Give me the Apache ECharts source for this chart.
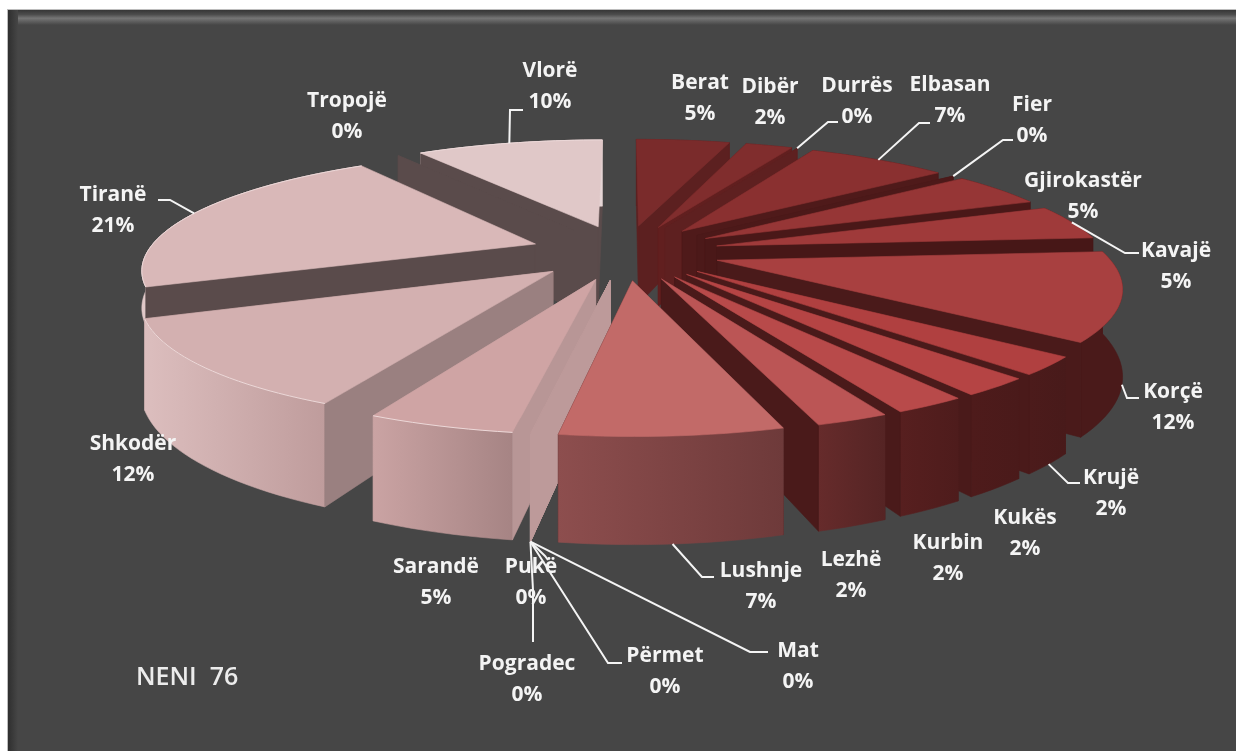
<!DOCTYPE html>
<html>
<head>
<meta charset="utf-8">
<style>html,body{margin:0;padding:0;background:#fff}#chart{width:1236px;height:751px}</style>
<script src="https://cdn.jsdelivr.net/npm/echarts@6/dist/echarts.min.js"></script>
</head>
<body>
<div id="chart"></div>
<script>
// data (seats per district, the % labels come out of these)
var names = ['Berat','Dibër','Durrës','Elbasan','Fier','Gjirokastër','Kavajë','Korçë','Krujë','Kukës','Kurbin','Lezhë','Lushnje','Mat','Përmet','Pogradec','Pukë','Sarandë','Shkodër','Tiranë','Tropojë','Vlorë'];
var seats = [2,1,0,3,0,2,2,5,1,1,1,1,3,0,0,0,0,2,5,9,0,4];
var title = 'NENI  76';

// colours per slice, same order as names
var topColors = ['#7a2b2b','#802d2d','#802d2d','#8a3030','#8a3030','#963636','#9f3a3a','#a84040','#b04040','#b54444','#b84a4a','#bb5555','#c26a68','#c9a0a0','#c9a0a0','#c9a0a0','#c9a0a0','#cfa4a4','#d3b0b0','#d9b8b8','#5a4b4b','#e0c8c8'];
var sideColors = ['#5c2020','#611f1f','#5e2020','#4f1a1a','#4c1919','#4a1818','#471717','#4a1a1a','#4a1a1a','#4a1a1a','#4a1a1a','#4a1a1a','#4a2020','#bd9a9a','#bd9a9a','#bd9a9a','#bd9a9a','#b89696','#9a8080','#5a4b4b','#5a4b4b','#5a4b4b'];
var wallColors = [['#5c2020','#5c2020'],['#5c2020','#5c2020'],['#5c2020','#5c2020'],['#4f1a1a','#4f1a1a'],['#4f1a1a','#4f1a1a'],['#4a1818','#4a1818'],['#4a1818','#4a1818'],['#4a1a1a','#4a1a1a'],['#4c1b1b','#481a1a'],['#4e1b1b','#4a1a1a'],['#571f1f','#4e1c1c'],['#662b2b','#552424'],['#8d4e4e','#6e3a3a'],['#bd9a9a','#bd9a9a'],['#bd9a9a','#bd9a9a'],['#bd9a9a','#bd9a9a'],['#bd9a9a','#bd9a9a'],['#caa3a3','#a68484'],['#dcbebe','#bf9c9c'],['#e0c8c8','#ddc4c4'],['#5a4b4b','#5a4b4b'],['#e6d6d6','#e6d6d6']];

// label centres and leader elbows, the leader's start comes from the slice itself
var labelAt = {
  'Berat':[700,99],'Dibër':[770,103],'Durrës':[857,102],'Elbasan':[950,101],'Fier':[1032,121],'Gjirokastër':[1083,197],
  'Kavajë':[1176,267],'Korçë':[1173,408],'Krujë':[1111,494],'Kukës':[1025,534],'Kurbin':[948,559],'Lezhë':[851,576],
  'Lushnje':[761,587],'Mat':[798,667],'Përmet':[665,672],'Pogradec':[527,680],'Pukë':[531,583],'Sarandë':[436,583],
  'Shkodër':[133,460],'Tiranë':[113,211],'Tropojë':[347,117],'Vlorë':[550,87]
};
var leaders = {
  'Durrës':['top',[828,122],[838,122]],'Elbasan':['top',[919,123],[930,123]],'Fier':['top',[1003,140],[1013,140]],
  'Kavajë':['top',[1125,253],[1139,253]],'Korçë':['bottom',[1127,398],[1139,398]],'Krujë':['bottom',[1068,483],[1080,483]],
  'Lushnje':['bottom',[702,577],[714,577]],'Mat':['bottom',[750,652],[768,652]],'Përmet':['bottom',[608,663],[622,663]],
  'Pogradec':['bottom',[533,590],[533,642]],'Pukë':['bottom',[545,556],[548,560]],
  'Tiranë':['top',[170,200],[158,200]],'Vlorë':['top',[510,110],[523,110]]
};
var shortWall = {'Tiranë':36}; // its wall is behind Shkodër anyway, only the top of it shows

var total = seats.reduce(function(a,b){return a+b},0);
var cx = 625, cy = 252, R = 388, blow = 95, depth = 82, tilt = 0.29, camera = 2000;

function project(u,v,z){
  var f = 1/(1-v/camera);
  return [cx+u*f, cy+(tilt*v-z)*f];
}
function polar(a,r){ return [r*Math.sin(a), -r*Math.cos(a)]; }

var slices = [], acc = 0;
seats.forEach(function(v,i){
  var a0 = acc/total*2*Math.PI;
  acc += v;
  var a1 = acc/total*2*Math.PI;
  slices.push({i:i,a0:a0,a1:a1,mid:(a0+a1)/2});
});

function rimPoint(s,a,z){
  var o = polar(s.mid,blow), p = polar(a,R);
  return project(o[0]+p[0],o[1]+p[1],z);
}
function apexPoint(s,z){
  var o = polar(s.mid,blow);
  return project(o[0],o[1],z);
}
function arc(s,z){
  var n = Math.max(1,Math.ceil((s.a1-s.a0)/0.03)), pts = [];
  for(var k=0;k<=n;k++) pts.push(rimPoint(s,s.a0+(s.a1-s.a0)*k/n,z));
  return pts;
}
function fillOf(pts,c){
  if(c[0]===c[1]) return c[0];
  var xs = pts.map(function(p){return p[0]});
  return new echarts.graphic.LinearGradient(Math.min.apply(null,xs),0,Math.max.apply(null,xs),0,[{offset:0,color:c[0]},{offset:1,color:c[1]}],true);
}
function poly(pts,fill,stroke){
  return {type:'polygon',shape:{points:pts},style:{fill:fill,stroke:stroke||fill,lineWidth:0.6}};
}
function sideFace(s,a,h){
  return [apexPoint(s,0),rimPoint(s,a,0),rimPoint(s,a,-h),apexPoint(s,-depth)];
}
function renderSlice(params){
  var s = slices[order[params.dataIndex]], i = s.i, kids = [];
  var h = shortWall[names[i]] || depth;
  var top = arc(s,0), bottom = arc(s,-h).reverse();
  var side = sideColors[i];
  var faces = [
    {d:-Math.cos(s.a0)*0.5-Math.cos(s.mid),el:poly(sideFace(s,s.a0,h),side)},
    {d:-Math.cos(s.a1)*0.5-Math.cos(s.mid),el:poly(sideFace(s,s.a1,h),side)}
  ];
  if(s.a1>s.a0){
    var wall = top.concat(bottom);
    faces.push({d:-Math.cos(s.mid)*1.5,el:poly(wall,fillOf(wall,wallColors[i]))});
  }
  faces.sort(function(a,b){return a.d-b.d});
  faces.forEach(function(f){kids.push(f.el)});
  if(s.a1>s.a0){
    kids.push(poly([apexPoint(s,0)].concat(top),topColors[i]));
    if(i>=17) kids.push({type:'polyline',shape:{points:top},style:{fill:null,stroke:'#ecd8d8',lineWidth:1}});
  }
  return {type:'group',children:kids};
}
function renderLabel(params){
  var i = params.dataIndex, name = names[i], at = labelAt[name], kids = [];
  var lead = leaders[name];
  if(lead){
    var s = slices[i];
    kids.push({type:'polyline',shape:{points:[rimPoint(s,s.mid,lead[0]==='top'?0:-depth),lead[1],lead[2]]},
      style:{fill:null,stroke:'#f4f4f4',lineWidth:2}});
  }
  kids.push({type:'text',x:at[0],y:at[1],style:{
    text:name+'\n'+Math.round(seats[i]/total*100)+'%',
    fill:'#f4f4f4',font:'bold 21px "Open Sans"',align:'center',verticalAlign:'middle',lineHeight:31}});
  return {type:'group',children:kids};
}

// far slices first so the near ones paint over them
var order = slices.map(function(s){return s.i}).sort(function(a,b){
  return -Math.cos(slices[a].mid)+Math.cos(slices[b].mid);
});

var chart = echarts.init(document.getElementById('chart'));
chart.setOption({
  backgroundColor:'#ffffff',
  animation:false,
  graphic:{elements:[
    {type:'rect',shape:{x:8,y:10,width:1228,height:741},style:{fill:'#464646'},z:0},
    {type:'rect',shape:{x:8,y:10,width:1228,height:15},z:1,style:{fill:new echarts.graphic.LinearGradient(0,0,0,1,[{offset:0,color:'#363636'},{offset:0.3,color:'#4c4c4c'},{offset:0.55,color:'#757575'},{offset:1,color:'#464646'}])}},
    {type:'rect',shape:{x:8,y:10,width:10,height:741},z:2,style:{fill:new echarts.graphic.LinearGradient(0,0,1,0,[{offset:0,color:'#2f2f2f'},{offset:1,color:'#464646'}])}},
    {type:'rect',shape:{x:7,y:9,width:1229,height:1},z:3,style:{fill:'#bdbdbd'}},
    {type:'rect',shape:{x:7,y:9,width:1,height:742},z:3,style:{fill:'#bdbdbd'}},
    {type:'text',x:136,y:678,z:5,style:{text:title,fill:'#ececec',font:'600 25px "Open Sans"',verticalAlign:'middle'}}
  ]},
  series:[
    {type:'custom',coordinateSystem:'none',silent:true,z:3,clip:false,data:order.map(function(k){return [k,seats[k]]}),renderItem:renderSlice},
    {type:'custom',coordinateSystem:'none',silent:true,z:4,clip:false,data:names.map(function(n,k){return [k,seats[k]]}),renderItem:renderLabel}
  ]
});
</script>
</body>
</html>
